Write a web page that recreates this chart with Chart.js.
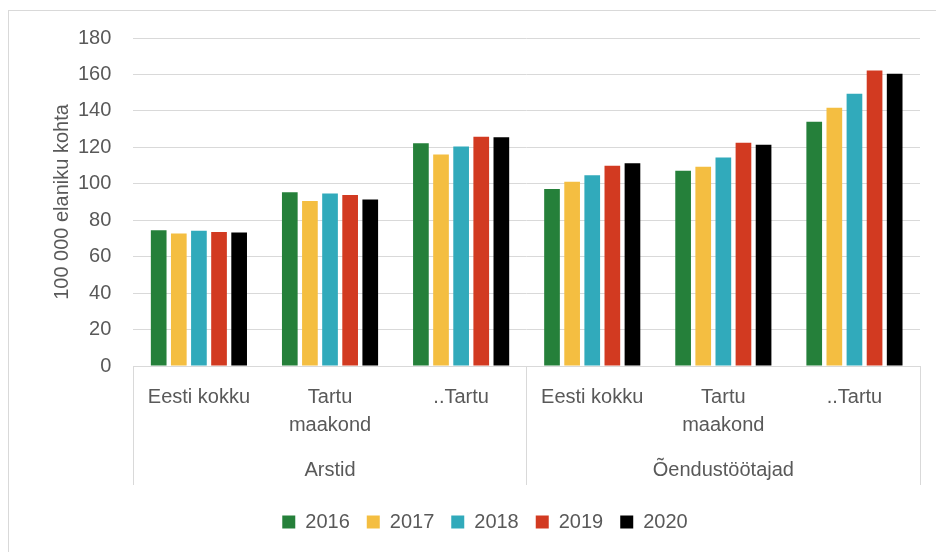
<!DOCTYPE html>
<html>
<head>
<meta charset="utf-8">
<script src="https://cdn.jsdelivr.net/npm/chart.js@4/dist/chart.umd.min.js"></script>
<style>
  html, body { margin: 0; padding: 0; background: #fff; overflow: hidden; }
  #wrap { position: relative; width: 936px; height: 552px; overflow: hidden; }
  #frame { position: absolute; left: 8px; top: 10px; width: 1200px; height: 800px; border: 1px solid #d9d9d9; }
  canvas { position: absolute; left: 0; top: 0; }
</style>
</head>
<body>
<div id="wrap">
  <div id="frame"></div>
  <canvas id="c" width="936" height="552"></canvas>
</div>
<script>
const categories = [['Eesti kokku'], ['Tartu', 'maakond'], ['..Tartu'], ['Eesti kokku'], ['Tartu', 'maakond'], ['..Tartu']];
const groups = ['Arstid', 'Õendustöötajad'];
const years = ['2016', '2017', '2018', '2019', '2020'];
const v2016 = [74.5, 95.4, 122.3, 97.2, 107.1, 134.0];
const v2017 = [72.7, 90.6, 116.1, 101.1, 109.3, 141.7];
const v2018 = [74.2, 94.7, 120.5, 104.7, 114.4, 149.4];
const v2019 = [73.6, 93.9, 125.8, 109.9, 122.5, 162.2];
const v2020 = [73.2, 91.4, 125.6, 111.3, 121.4, 160.4];
const yTitle = '100 000 elaniku kohta';

const colors = ['#25803A', '#F4BE41', '#31AABB', '#D23A21', '#000000'];
const seriesValues = [v2016, v2017, v2018, v2019, v2020];
const FONT = '"Liberation Sans", Arial, sans-serif';
const TXT = '#595959';
const GRID = '#d9d9d9';
const NONE = 'rgba(0,0,0,0)';

Chart.defaults.font.family = FONT;
Chart.defaults.color = TXT;

new Chart(document.getElementById('c'), {
  type: 'bar',
  data: {
    labels: categories,
    datasets: years.map((y, i) => ({
      label: y,
      data: seriesValues[i],
      backgroundColor: colors[i],
      borderWidth: 0,
      categoryPercentage: 0.767,
      barPercentage: 0.78
    }))
  },
  options: {
    responsive: false,
    animation: false,
    layout: { padding: { left: 50, right: 16, top: 38, bottom: 10 } },
    plugins: {
      tooltip: { enabled: false },
      legend: {
        position: 'bottom',
        labels: {
          boxWidth: 13, boxHeight: 13, padding: 17,
          color: TXT, font: { size: 20, family: FONT }
        }
      }
    },
    scales: {
      y: {
        min: 0, max: 180,
        ticks: { stepSize: 20, padding: 2, color: TXT, font: { size: 20, family: FONT } },
        grid: { color: GRID, lineWidth: 1, drawTicks: true, tickLength: 20, tickColor: NONE },
        border: { display: false },
        title: { display: true, text: yTitle, color: TXT, font: { size: 20, family: FONT }, padding: { top: 0, bottom: 2 } }
      },
      x: {
        weight: 0,
        offset: true,
        ticks: { mirror: true, padding: -45, maxRotation: 0, autoSkip: false, color: TXT, font: { size: 20, family: FONT, lineHeight: 1.4 } },
        grid: {
          offset: true, drawOnChartArea: false, drawTicks: true, tickLength: 119, lineWidth: 1,
          color: c => ((c.index === undefined || c.index % 3 === 0) ? GRID : NONE)
        },
        border: { display: false }
      },
      x2: {
        type: 'category',
        labels: groups,
        position: 'bottom',
        weight: 1,
        offset: true,
        ticks: { padding: 0, maxRotation: 0, autoSkip: false, color: TXT, font: { size: 20, family: FONT, lineHeight: 1.4 } },
        grid: { offset: true, drawOnChartArea: false, drawTicks: true, tickLength: 61, color: NONE, lineWidth: 1 },
        border: { display: false },
        title: { display: true, text: '', font: { size: 10, lineHeight: 1 }, padding: { top: 1, bottom: 0 } }
      }
    }
  }
});
</script>
</body>
</html>
